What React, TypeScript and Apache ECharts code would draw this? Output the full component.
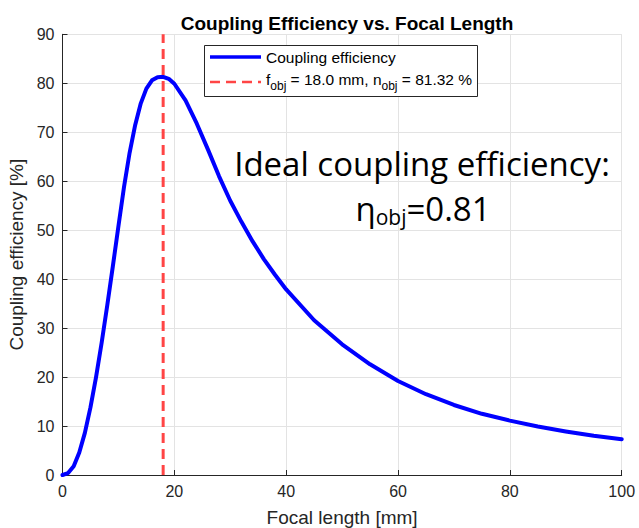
import React, { useEffect, useRef } from "react";
import * as echarts from "echarts";

const focalLength = [0, 1, 2, 3, 4, 5, 6, 7, 8, 9, 10, 11, 12, 13, 14, 15, 16, 17, 18, 19, 20, 22, 24, 26, 28, 30, 32, 34, 36, 38, 40, 45, 50, 55, 60, 65, 70, 75, 80, 85, 90, 95, 100];
const efficiency = [0, 0.4, 1.8, 4.6, 8.6, 13.8, 20.0, 27.0, 34.6, 42.6, 50.8, 58.8, 65.8, 71.5, 75.9, 78.9, 80.6, 81.25, 81.32, 80.9, 79.9, 76.5, 71.8, 66.5, 61.0, 56.0, 51.7, 47.7, 44.1, 40.9, 37.9, 31.6, 26.7, 22.6, 19.2, 16.5, 14.3, 12.5, 11.1, 9.9, 8.9, 8.0, 7.3];
const optimumX = [18, 18];
const optimumY = [0, 90];

const titleText = "Coupling Efficiency vs. Focal Length";
const xLabel = "Focal length [mm]";
const yLabel = "Coupling efficiency [%]";
const legendMain = "Coupling efficiency";
const annotationLine1 = "Ideal coupling efficiency:";

const AX = "#262626";
const FONT = "Liberation Sans";

export default function App() {
  const ref = useRef<HTMLDivElement>(null);
  useEffect(() => {
    document.body.style.margin = "0";
    const chart = echarts.init(ref.current!, null, { renderer: "svg" });
    chart.setOption({
      animation: false,
      backgroundColor: "#ffffff",
      title: {
        text: titleText,
        left: 342,
        top: 9,
        textAlign: "center",
        textStyle: { fontFamily: FONT, fontSize: 19, fontWeight: "bold", color: "#000" },
      },
      grid: {
        left: 62.5,
        top: 34.3,
        width: 559.2,
        height: 440.7,
        containLabel: false,
        outerBoundsMode: "none",
      },
      xAxis: {
        type: "value",
        min: 0,
        max: 100,
        interval: 20,
        name: xLabel,
        nameLocation: "middle",
        nameGap: 33,
        nameTextStyle: { fontFamily: FONT, fontSize: 19, color: AX },
        axisLine: { show: true, onZero: false, lineStyle: { color: AX, width: 1 } },
        axisTick: { show: true, inside: true, length: 5, lineStyle: { color: AX } },
        axisLabel: { fontFamily: FONT, fontSize: 16, color: AX, margin: 8 },
        splitLine: { show: true, lineStyle: { color: "#e3e3e3", width: 1 } },
      },
      yAxis: {
        type: "value",
        min: 0,
        max: 90,
        interval: 10,
        name: yLabel,
        nameLocation: "middle",
        nameGap: 34,
        nameRotate: 90,
        nameTextStyle: { fontFamily: FONT, fontSize: 19, color: AX },
        axisLine: { show: true, onZero: false, lineStyle: { color: AX, width: 1 } },
        axisTick: { show: true, inside: true, length: 5, lineStyle: { color: AX } },
        axisLabel: { fontFamily: FONT, fontSize: 16, color: AX, margin: 8 },
        splitLine: { show: true, lineStyle: { color: "#e3e3e3", width: 1 } },
      },
      series: [
        {
          type: "line",
          name: legendMain,
          data: focalLength.map((x, i) => [x, efficiency[i]]),
          smooth: false,
          showSymbol: false,
          lineStyle: { color: "#0000ff", width: 4, join: "round", cap: "round" },
          z: 3,
        },
        {
          type: "line",
          name: "optimum",
          data: optimumX.map((x, i) => [x, optimumY[i]]),
          showSymbol: false,
          lineStyle: { color: "#ff4545", width: 3, type: [10, 6] },
          z: 4,
        },
      ],
      graphic: [
        {
          type: "rect",
          shape: { x: 204.5, y: 45.5, width: 273, height: 51 },
          style: { fill: "#ffffff", stroke: AX, lineWidth: 1 },
          z: 10,
        },
        {
          type: "line",
          shape: { x1: 210, y1: 57, x2: 261, y2: 57 },
          style: { stroke: "#0000ff", lineWidth: 3.5 },
          z: 11,
        },
        {
          type: "line",
          shape: { x1: 210, y1: 82, x2: 261, y2: 82 },
          style: { stroke: "#ff4545", lineWidth: 2.5, lineDash: [10, 6] },
          z: 11,
        },
        {
          type: "text",
          x: 266,
          y: 57,
          style: { text: legendMain, fontFamily: FONT, fontSize: 15.5, fill: "#000", verticalAlign: "middle" },
          z: 11,
        },
        {
          type: "text",
          x: 266,
          y: 79,
          style: {
            text: "{m|f}{s|obj}{m| = 18.0 mm, n}{s|obj}{m| = 81.32 %}",
            verticalAlign: "middle",
            rich: {
              m: { fontFamily: FONT, fontSize: 15.5, fill: "#000", verticalAlign: "middle" },
              s: { fontFamily: FONT, fontSize: 12, fill: "#000", padding: [13, 0, 0, 0] },
            },
          },
          z: 11,
        },
        {
          type: "text",
          x: 422,
          y: 163,
          style: {
            text: annotationLine1,
            fontFamily: "Open Sans",
            fontSize: 33,
            fill: "#000",
            align: "center",
            verticalAlign: "middle",
          },
          z: 11,
        },
        {
          type: "text",
          x: 423,
          y: 208,
          style: {
            text: "{m|η}{s|obj}{m|=0.81}",
            align: "center",
            verticalAlign: "middle",
            rich: {
              m: { fontFamily: "Open Sans", fontSize: 33, fill: "#000" },
              s: { fontFamily: "Open Sans", fontSize: 21, fill: "#000", padding: [17, 0, 0, 0] },
            },
          },
          z: 11,
        },
      ],
    });
    return () => chart.dispose();
  }, []);
  return <div ref={ref} style={{ width: 639, height: 528 }} />;
}
